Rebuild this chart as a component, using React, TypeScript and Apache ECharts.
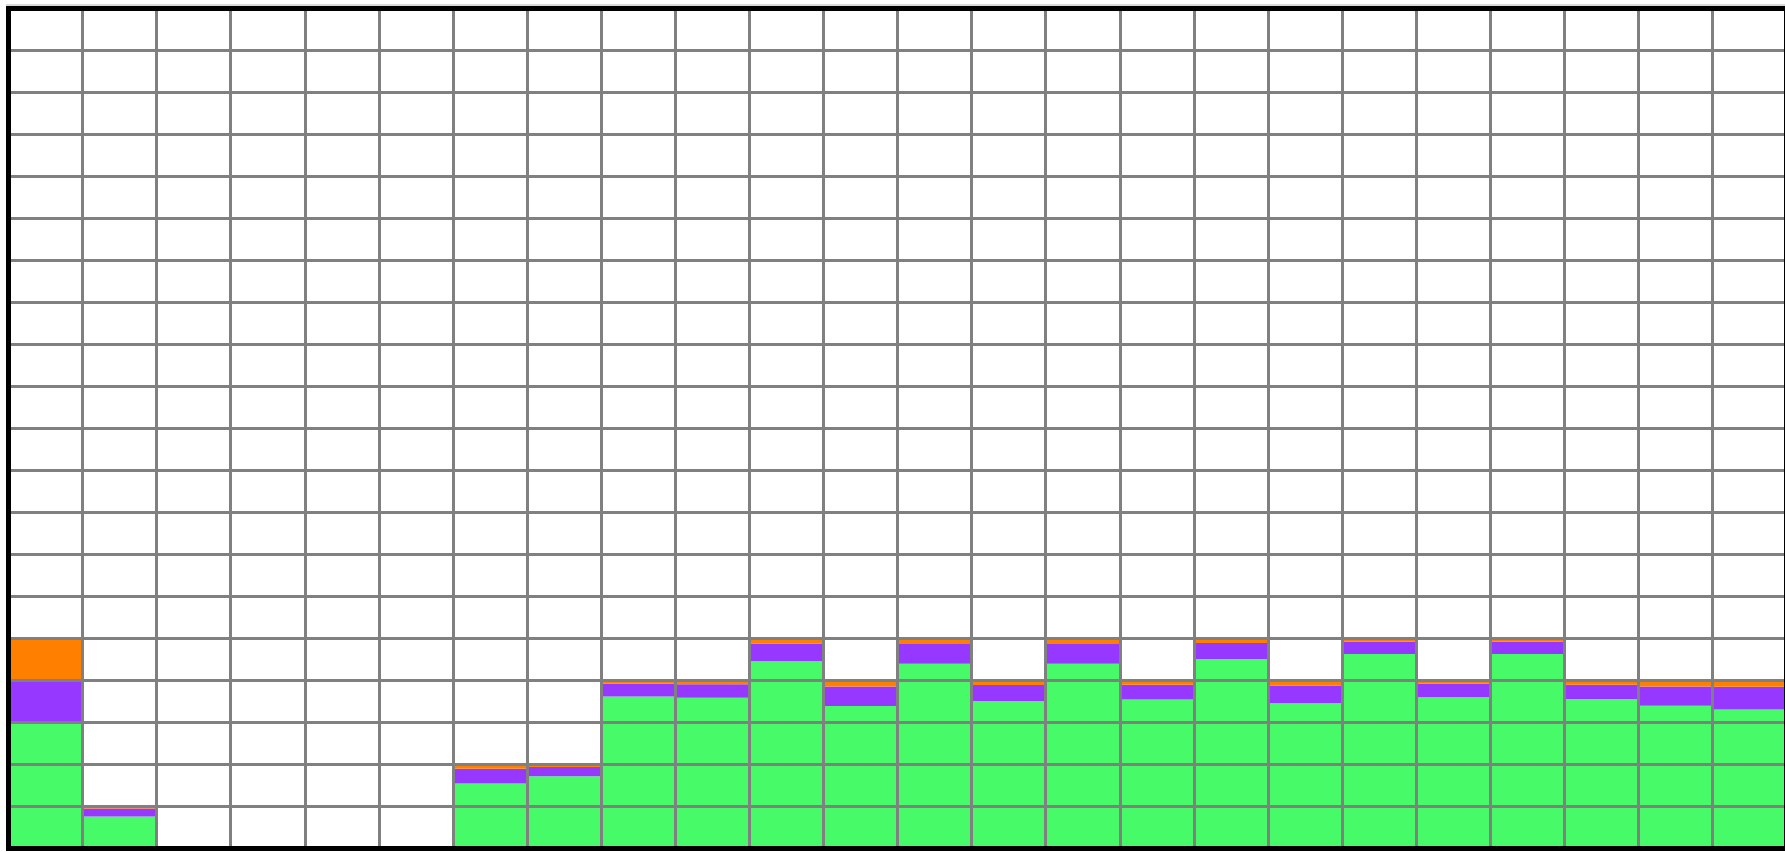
import React, { useEffect, useRef } from "react";
import * as echarts from "echarts";

const categories = [
  "0", "1", "2", "3", "4", "5", "6", "7", "8", "9", "10", "11",
  "12", "13", "14", "15", "16", "17", "18", "19", "20", "21", "22", "23",
];
const greenValues = [3.0, 0.76, 0, 0, 0, 0, 1.55, 1.72, 3.62, 3.59, 4.46, 3.39, 4.4, 3.51, 4.4, 3.55, 4.51, 3.46, 4.63, 3.6, 4.63, 3.56, 3.4, 3.31];
const purpleValues = [1.0, 0.19, 0, 0, 0, 0, 0.35, 0.22, 0.3, 0.32, 0.42, 0.47, 0.47, 0.38, 0.47, 0.35, 0.38, 0.42, 0.29, 0.32, 0.29, 0.34, 0.46, 0.54];
const orangeValues = [1.0, 0.05, 0, 0, 0, 0, 0.1, 0.06, 0.08, 0.09, 0.12, 0.14, 0.13, 0.11, 0.13, 0.1, 0.11, 0.12, 0.08, 0.08, 0.08, 0.1, 0.14, 0.15];
const yMin = 0;
const yMax = 20;
const yInterval = 1;

export default function App() {
  const ref = useRef<HTMLDivElement>(null);
  useEffect(() => {
    if (!ref.current) return;
    const chart = echarts.init(ref.current, null, { renderer: "svg" });
    const barBase = {
      type: "bar",
      stack: "total",
      barWidth: "100%",
      barCategoryGap: "0%",
      z: 2,
    };
    chart.setOption({
      animation: false,
      backgroundColor: "#ffffff",
      grid: {
        left: 8.5,
        top: 8.5,
        right: 13.5,
        bottom: 3.5,
        show: true,
        borderColor: "#000000",
        borderWidth: 5,
        backgroundColor: "transparent",
        z: 10,
      },
      xAxis: {
        type: "category",
        data: categories,
        boundaryGap: true,
        z: 5,
        axisLine: { show: false },
        axisTick: { show: false },
        axisLabel: { show: false },
        splitLine: {
          show: true,
          interval: 0,
          lineStyle: { color: "#808080", width: 3 },
        },
      },
      yAxis: {
        type: "value",
        min: yMin,
        max: yMax,
        interval: yInterval,
        z: 5,
        axisLine: { show: false },
        axisTick: { show: false },
        axisLabel: { show: false },
        splitLine: {
          show: true,
          lineStyle: { color: "#808080", width: 3 },
        },
      },
      graphic: [
        {
          type: "line",
          shape: { x1: 6, y1: 5, x2: 1800, y2: 5 },
          style: { stroke: "#b0b0b0", lineWidth: 1 },
          z: 20,
        },
      ],
      series: [
        { ...barBase, name: "green", data: greenValues, itemStyle: { color: "#47fb68" } },
        { ...barBase, name: "purple", data: purpleValues, itemStyle: { color: "#9638ff" } },
        { ...barBase, name: "orange", data: orangeValues, itemStyle: { color: "#ff8000" } },
      ],
    });
    return () => chart.dispose();
  }, []);
  return (
    <div
      style={{
        position: "fixed",
        left: 0,
        top: 0,
        width: 1785,
        height: 852,
        overflow: "hidden",
      }}
    >
      <div ref={ref} style={{ width: 1800, height: 852 }} />
    </div>
  );
}
